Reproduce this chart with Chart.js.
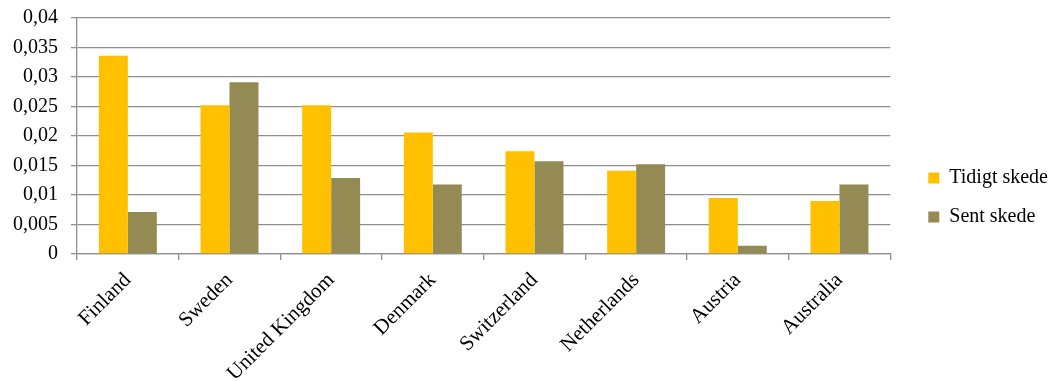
<!DOCTYPE html>
<html>
<head>
<meta charset="utf-8">
<script src="https://cdn.jsdelivr.net/npm/chart.js@4/dist/chart.umd.min.js"></script>
<style>
    html, body { margin: 0; padding: 0; background: #fff; }
    #wrap { width: 1054px; height: 381px; }
</style>
</head>
<body>
<div id="wrap"><canvas id="chartByCountry"></canvas></div>
<script>
const countries = ["Finland", "Sweden", "United Kingdom", "Denmark", "Switzerland", "Netherlands", "Austria", "Australia"];
const tidigtSkede = [0.0336, 0.0252, 0.0252, 0.0206, 0.0174, 0.0141, 0.0095, 0.0090];
const sentSkede = [0.0071, 0.0291, 0.0129, 0.0118, 0.0157, 0.0152, 0.0014, 0.0118];
const yTicks = [0, 0.005, 0.01, 0.015, 0.02, 0.025, 0.03, 0.035, 0.04];

const serif = "'Liberation Serif', 'Times New Roman', serif";
const gridColor = "#8e8e8e";

Chart.defaults.font.family = serif;
Chart.defaults.color = "#000";

// push the legend a bit further away from the plot area
const legendGap = {
    id: "legendGap",
    afterLayout: (chart) => {
        chart.legend.left += 19;
        chart.legend.right += 19;
        chart.legend.top -= 2;
        chart.legend.bottom -= 2;
    }
};

new Chart(document.getElementById("chartByCountry"), {
    type: "bar",
    data: {
        labels  : countries,
        datasets: [{
            label          : "Tidigt skede",
            data           : tidigtSkede,
            backgroundColor: "#FFC000"
        }, {
            label          : "Sent skede",
            data           : sentSkede,
            backgroundColor: "#948A54"
        }]
    },
    plugins: [legendGap],
    options: {
        responsive         : true,
        maintainAspectRatio: false,
        animation          : false,
        layout             : {padding: {top: 18, right: 15, left: 0, bottom: 0}},
        datasets           : {bar: {categoryPercentage: 0.57, barPercentage: 1.0}},
        plugins            : {
            tooltip: {enabled: false},
            legend : {
                position: "right",
                labels  : {
                    boxWidth : 11,
                    boxHeight: 11,
                    padding  : 19,
                    font     : {size: 20, family: serif}
                }
            }
        },
        scales: {
            x: {
                grid  : {drawOnChartArea: false, drawTicks: true, tickLength: 6, color: gridColor, lineWidth: 1.3},
                border: {color: gridColor, width: 1.3},
                ticks : {minRotation: 45, maxRotation: 45, padding: 8, font: {size: 21}},
                afterFit: (scale) => { scale.height = 127; }
            },
            y: {
                min   : 0,
                max   : 0.04,
                afterBuildTicks: (scale) => { scale.ticks = yTicks.map(v => ({value: v})); },
                grid  : {color: gridColor, lineWidth: 1.3, tickLength: 6},
                border: {color: gridColor, width: 1.3},
                ticks : {
                    padding : 13,
                    font    : {size: 20},
                    callback: (value) => value === 0 ? "0" : String(+value.toFixed(3)).replace(".", ",")
                },
                afterFit: (scale) => {
                    scale.width = 77;
                    // top of the axis is set by layout padding only
                    scale.paddingTop = 0;
                    scale.paddingBottom = 0;
                }
            }
        }
    }
});
</script>
</body>
</html>
